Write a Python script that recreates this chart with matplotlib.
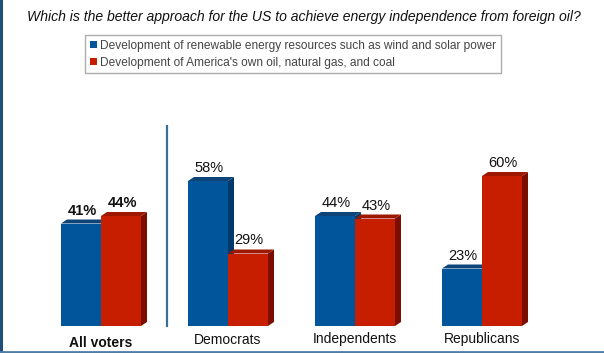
import matplotlib.pyplot as plt
from matplotlib.patches import Polygon, Patch
from matplotlib.lines import Line2D

groups = ["All voters", "Democrats", "Independents", "Republicans"]
renewable = [41, 58, 44, 23]
fossil = [44, 29, 43, 60]
series_names = ["Development of renewable energy resources such as wind and solar power",
                "Development of America's own oil, natural gas, and coal"]

plt.rcParams['font.family'] = ['Liberation Sans', 'DejaVu Sans']

W, H = 604, 353
fig = plt.figure(figsize=(W / 100, H / 100), dpi=100)
ax = fig.add_axes([0, 0, 1, 1])
ax.set_axis_off()

# pixel-ish geometry: group spacing 127 px, 2.5 px per percent, baseline at y=326
ax.set_xlim(-101 / 127, (W - 101) / 127)
ax.set_ylim(-(H - 326) / 2.5, 326 / 2.5)

bw = 40 / 127
dx = 6 / 127
dy = 1.6

colors = [("#01559A", "#0D4578", "#02396A"), ("#C81E00", "#9E1800", "#7B0E00")]


def bar3d(x0, h, cols):
    front, top, side = cols
    x1 = x0 + bw
    ax.add_patch(Polygon([(x1, 0), (x1 + dx, dy), (x1 + dx, h + dy), (x1, h)],
                         closed=True, fc=side, ec="none"))
    ax.add_patch(Polygon([(x0, h), (x1, h), (x1 + dx, h + dy), (x0 + dx, h + dy)],
                         closed=True, fc=top, ec="none"))
    ax.add_patch(Polygon([(x0, 0), (x1, 0), (x1, h), (x0, h)],
                         closed=True, fc=front, ec="none"))


for i, g in enumerate(groups):
    weight = "bold" if i == 0 else "normal"
    for j, vals in enumerate([renewable, fossil]):
        x0 = i - bw + j * bw
        bar3d(x0, vals[i], colors[j])
        ax.text(x0 + bw / 2 + 0.01, vals[i] + dy + 0.8, f"{vals[i]}%", ha="center", va="bottom",
                fontsize=10.5, fontweight=weight, color="#111111")
    ax.text(i, -4.0 if i == 0 else -2.6, g, ha="center", va="top",
            fontsize=10 if i == 0 else 10, fontweight=weight, color="#111111")

# separator between all voters and party groups
ax.plot([0.52, 0.52], [0, 80], color="#3C6E9A", lw=1.6)

fig.text(0.503, 1 - 17 / H, "Which is the better approach for the US to achieve energy independence from foreign oil?",
         ha="center", va="center", fontsize=10.1, style="italic", color="#111111")

handles = [Patch(fc=colors[0][0], ec="none"), Patch(fc=colors[1][0], ec="none")]
leg = fig.legend(handles, series_names, loc="upper left", bbox_to_anchor=(85 / W, 1 - 35 / H),
                 fontsize=8.6, frameon=True, fancybox=False, handlelength=0.6, handleheight=0.6,
                 handletextpad=0.25, borderpad=0.4, labelspacing=0.4, borderaxespad=0)
leg.get_frame().set_edgecolor("#999999")
leg.get_frame().set_linewidth(1.0)
for t in leg.get_texts():
    t.set_color("#444444")

# border lines
fig.add_artist(Line2D([0.0015, 0.0015], [0, 1], transform=fig.transFigure, color="#1F4E79", lw=2.2))
fig.add_artist(Line2D([0, 1], [1.5 / H, 1.5 / H], transform=fig.transFigure, color="#4F7DA3", lw=2.0))

fig.savefig("out.png", dpi=100)
